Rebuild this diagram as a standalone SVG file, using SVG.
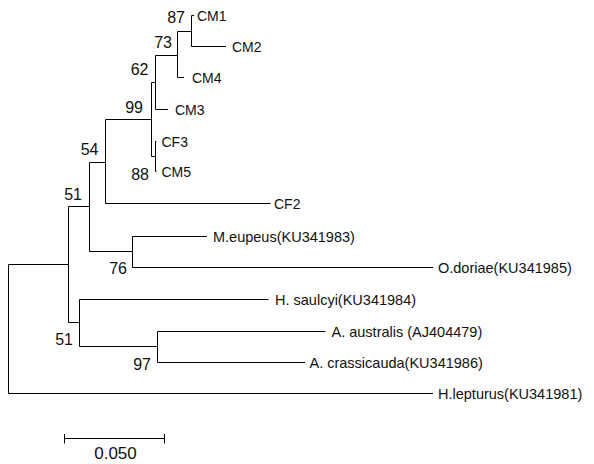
<svg xmlns="http://www.w3.org/2000/svg" width="594" height="464" viewBox="0 0 594 464">
<style>
.br{fill:none;stroke:#000;stroke-width:1}
.lf{font-family:"Liberation Sans",Arial,sans-serif;font-size:14.5px;fill:#111}
.cm{font-family:"Liberation Sans",Arial,sans-serif;font-size:14px;fill:#111}
.bs{font-family:"Liberation Sans",Arial,sans-serif;font-size:16px;fill:#111;text-anchor:end}
.sc{font-family:"Liberation Sans",Arial,sans-serif;font-size:17px;fill:#111;text-anchor:middle}
</style>
<rect width="594" height="464" fill="#fff"/>
<g id="connectors">
<path class="br" d="M8.5,264.5 V393.5 M8.5,264.5 H68.5 M8.5,393.5 H433"/>
<path class="br" d="M68.5,206.5 V322.5 M68.5,206.5 H89.5 M68.5,322.5 H79.5"/>
<path class="br" d="M89.5,162.5 V251.5 M89.5,162.5 H105.5 M89.5,251.5 H132.5"/>
<path class="br" d="M105.5,119.5 V203.5 M105.5,119.5 H151.5 M105.5,203.5 H270.5"/>
<path class="br" d="M151.5,82.5 V156.5 M151.5,82.5 H155.5 M151.5,156.5 H155.5"/>
<path class="br" d="M155.5,55.5 V109.5 M155.5,55.5 H177.5 M155.5,109.5 H168"/>
<path class="br" d="M177.5,31.5 V77.5 M177.5,31.5 H191.5 M177.5,77.5 H184"/>
<path class="br" d="M191.5,15.5 V46.5 M191.5,15.5 H194 M191.5,46.5 H226"/>
<path class="br" d="M155.5,141.5 V171.5 M155.5,141.5 H156.5 M155.5,171.5 H156.5"/>
<path class="br" d="M132.5,236.5 V267.5 M132.5,236.5 H207 M132.5,267.5 H433"/>
<path class="br" d="M79.5,299.5 V346.5 M79.5,299.5 H268.5 M79.5,346.5 H157.5"/>
<path class="br" d="M157.5,331.5 V362.5 M157.5,331.5 H325.5 M157.5,362.5 H305"/>
<path class="br" d="M64.5,438.5 H164.5 M64.5,434 V443.5 M164.5,434 V443.5"/>
</g>
<g id="leaf-CM1"><text class="cm" x="197" y="20.5">CM1</text></g>
<g id="leaf-CM2"><text class="cm" x="232" y="51.5">CM2</text></g>
<g id="leaf-CM4"><text class="cm" x="192" y="82.5">CM4</text></g>
<g id="leaf-CM3"><text class="cm" x="175" y="114.5">CM3</text></g>
<g id="leaf-CF3"><text class="cm" x="161.5" y="146.5">CF3</text></g>
<g id="leaf-CM5"><text class="cm" x="161.5" y="176.5">CM5</text></g>
<g id="leaf-CF2"><text class="cm" x="274" y="208.5">CF2</text></g>
<g id="leaf-Meupeus"><text class="lf" x="213" y="241.7">M.eupeus(KU341983)</text></g>
<g id="leaf-Odoriae"><text class="lf" x="438" y="272.7">O.doriae(KU341985)</text></g>
<g id="leaf-Hsaulcyi"><text class="lf" x="275" y="304.7">H. saulcyi(KU341984)</text></g>
<g id="leaf-Aaustralis"><text class="lf" x="331.5" y="336.7">A. australis (AJ404479)</text></g>
<g id="leaf-Acrassicauda"><text class="lf" x="309.5" y="367.7">A. crassicauda(KU341986)</text></g>
<g id="leaf-Hlepturus"><text class="lf" x="438" y="398.7">H.lepturus(KU341981)</text></g>
<g id="node-87"><text class="bs" x="185" y="23">87</text></g>
<g id="node-73"><text class="bs" x="172" y="48">73</text></g>
<g id="node-62"><text class="bs" x="148.5" y="75">62</text></g>
<g id="node-99"><text class="bs" x="143" y="113">99</text></g>
<g id="node-54"><text class="bs" x="98.5" y="155">54</text></g>
<g id="node-88"><text class="bs" x="149" y="180">88</text></g>
<g id="node-51a"><text class="bs" x="82" y="200">51</text></g>
<g id="node-76"><text class="bs" x="127" y="274">76</text></g>
<g id="node-51b"><text class="bs" x="73" y="345">51</text></g>
<g id="node-97"><text class="bs" x="151" y="370">97</text></g>
<g id="scale"><text class="sc" x="115.5" y="459">0.050</text></g>
</svg>
